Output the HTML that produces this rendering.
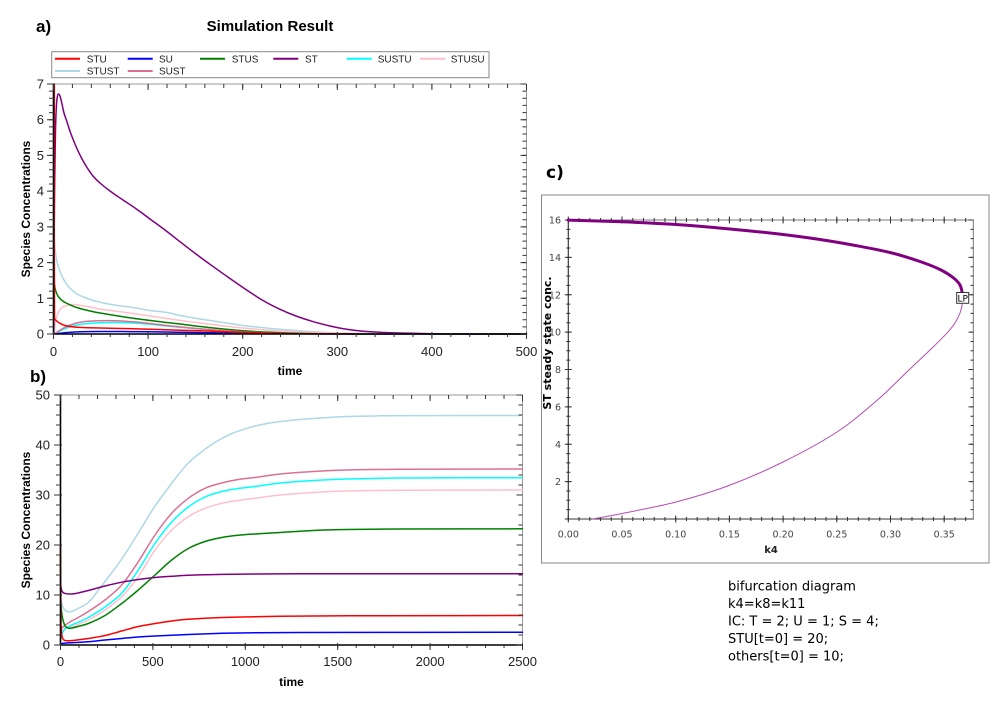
<!DOCTYPE html>
<html><head><meta charset="utf-8"><style>
html,body{margin:0;padding:0;background:#fff;}
svg{display:block;}
.ls{font-family:"Liberation Sans",Arial,sans-serif;}
.dj{font-family:"DejaVu Sans","Liberation Sans",sans-serif;}
</style></head><body>
<svg id="chart" width="1000" height="702" viewBox="0 0 1000 702" xmlns="http://www.w3.org/2000/svg">
<rect width="1000" height="702" fill="#fff"/>

<!-- ================= PANEL A ================= -->
<text x="36" y="32" class="ls" font-size="17" font-weight="bold" fill="#000">a)</text>
<text x="270" y="31" class="ls" font-size="15" font-weight="bold" fill="#000" text-anchor="middle">Simulation Result</text>

<!-- legend -->
<rect x="51.7" y="51.7" width="437.3" height="26" fill="#fff" stroke="#888" stroke-width="1"/>
<g stroke-width="2" fill="none">
<line x1="55" y1="58.7" x2="80" y2="58.7" stroke="#ff0000"/>
<line x1="127.7" y1="58.7" x2="152.7" y2="58.7" stroke="#0000ff"/>
<line x1="200" y1="58.7" x2="225" y2="58.7" stroke="#008000"/>
<line x1="273.3" y1="58.7" x2="298.3" y2="58.7" stroke="#800080"/>
<line x1="346.7" y1="58.7" x2="371.7" y2="58.7" stroke="#00ffff"/>
<line x1="420" y1="58.7" x2="445" y2="58.7" stroke="#ffc0cb"/>
<line x1="55" y1="71" x2="80" y2="71" stroke="#add8e6"/>
<line x1="127.7" y1="71" x2="152.7" y2="71" stroke="#db7093"/>
</g>
<g class="ls" font-size="10" fill="#222">
<text x="86.7" y="62.3">STU</text>
<text x="159" y="62.3">SU</text>
<text x="231.7" y="62.3">STUS</text>
<text x="305" y="62.3">ST</text>
<text x="377.7" y="62.3">SUSTU</text>
<text x="450.7" y="62.3">STUSU</text>
<text x="86.7" y="74.7">STUST</text>
<text x="159" y="74.7">SUST</text>
</g>

<!-- frame a -->
<line x1="53.5" y1="84" x2="526.5" y2="84" stroke="#999" stroke-width="1"/>
<line x1="526.5" y1="84" x2="526.5" y2="334" stroke="#999" stroke-width="1"/>

<!-- series a -->
<g fill="none" stroke-width="1.5" stroke-linejoin="round" stroke-linecap="round">
<polyline class="sm" stroke="#0000ff" points="54,334 60,333.2 75,332 100,331.5 150,331.8 200,332.6 250,333.4 300,333.8 350,334 526.5,334"/>
<polyline class="sm" stroke="#add8e6" points="54,236 55,248 56.7,260 58.5,267 61,274 64,280 68,286 73,291 78,294.5 86,298 95,301 111,304.5 133,307.5 150,310.5 167,312.5 180,315.5 200,319 233,324 246.7,326 280,329.3 313,331.7 350,333.2 400,334 526.5,334"/>
<polyline class="sm" stroke="#ffc0cb" points="54.5,330 55.5,322 57,316 59,311 62,307.5 66.7,305.5 72,304.5 78,305 90,307 100,309 133,313.5 166.7,318.5 200,323 233,327 266,330 300,332 350,333.5 420,334"/>
<polyline class="sm" stroke="#008000" points="54,280 55,288 56.5,293 58.3,296.5 62,300.5 66.7,303.3 76.7,307.5 90,311 100,313 133,318.3 166.7,322.5 180,324 200,326.5 246.7,331 280,332.6 313,333.6 360,334 526.5,334"/>
<polyline class="sm" stroke="#00ffff" points="54,334 58,332 62,330 66.7,328 75,325.5 83.3,324 100,322.8 117,322.5 133.3,323 150,324.3 166.7,326 200,329 233,331.5 266,333 300,333.7 350,334"/>
<polyline class="sm" stroke="#db7093" points="54,334 58,331.5 62,329 66.7,326.5 75,323.5 83.3,321.8 100,320.8 117,320.8 133.3,321.8 150,323.5 166.7,325.5 200,328.8 233,331.3 266,333 300,333.7 350,334"/>
<polyline class="sm" stroke="#800080" points="53.8,334 54,260 54.7,180 55.5,130 56.5,104 57.5,96 58.5,94 60,96 62,104 64,113 66.7,121 71,134 76.7,148 81,157 86.7,167 93,176 100,183 110,191 120,198 135,208 150,219 165,230 180,241.7 196,254 213.3,266.7 230,278.5 246.7,290 263,300.5 280,309.3 296,316 313.3,321.7 330,326 346.7,329.3 363,331.3 380,332.3 413,333.3 450,334 526.5,334"/>
<polyline class="sm" stroke="#ff0000" points="54.3,84 54.5,318 56,320.5 60,323.3 65,325.5 72,326.7 83,327.5 100,328 133,328.8 166,329.8 200,330.8 233,332 266,333 300,333.7 360,334"/>
</g>

<!-- axes a -->
<line x1="53.5" y1="84" x2="53.5" y2="334.5" stroke="#000" stroke-width="1.6"/>
<line x1="53" y1="334" x2="526.5" y2="334" stroke="#000" stroke-width="1.6"/>
<g stroke="#333" fill="none">
<line x1="53" y1="335" x2="528" y2="335" stroke-width="4" stroke-dasharray="1 17.92"/>
<line x1="53" y1="335.5" x2="528" y2="335.5" stroke-width="7" stroke-dasharray="1 93.6"/>
<line x1="53" y1="86" x2="528" y2="86" stroke-width="4" stroke-dasharray="1 17.92"/>
<line x1="53" y1="87" x2="528" y2="87" stroke-width="6" stroke-dasharray="1 93.6"/>
<line x1="51.5" y1="334.5" x2="51.5" y2="83" stroke-width="5" stroke-dasharray="1 6.1429"/>
<line x1="51" y1="334.5" x2="51" y2="83" stroke-width="8" stroke-dasharray="1 34.714"/>
<line x1="524.5" y1="334.5" x2="524.5" y2="83" stroke-width="4" stroke-dasharray="1 6.1429"/>
<line x1="523.5" y1="334.5" x2="523.5" y2="83" stroke-width="6" stroke-dasharray="1 34.714"/>
</g>
<g class="ls" font-size="13" fill="#222" text-anchor="middle">
<text x="53.5" y="356">0</text>
<text x="148.1" y="356">100</text>
<text x="242.7" y="356">200</text>
<text x="337.3" y="356">300</text>
<text x="431.9" y="356">400</text>
<text x="526.5" y="356">500</text>
</g>
<g class="ls" font-size="13" fill="#222" text-anchor="end">
<text x="44" y="338.5">0</text>
<text x="44" y="302.8">1</text>
<text x="44" y="267.1">2</text>
<text x="44" y="231.4">3</text>
<text x="44" y="195.6">4</text>
<text x="44" y="159.9">5</text>
<text x="44" y="124.2">6</text>
<text x="44" y="88.5">7</text>
</g>
<text x="290" y="375" class="ls" font-size="12" font-weight="bold" text-anchor="middle" fill="#000">time</text>
<text transform="translate(30,209) rotate(-90)" class="ls" font-size="12" font-weight="bold" text-anchor="middle" fill="#000">Species Concentrations</text>

<!-- ================= PANEL B ================= -->
<text x="30" y="382" class="ls" font-size="17" font-weight="bold" fill="#000">b)</text>
<line x1="60.5" y1="395" x2="522.5" y2="395" stroke="#999" stroke-width="1"/>
<line x1="522.5" y1="395" x2="522.5" y2="645" stroke="#999" stroke-width="1"/>

<g fill="none" stroke-width="1.5" stroke-linejoin="round" stroke-linecap="round">
<polyline class="sm" stroke="#add8e6" points="60.5,595 61.2,601 62.5,606 64.5,609.7 67,611.5 69.5,611.8 73,611 78,608.5 88.3,602.5 100,588 110,575 121.7,559 133.3,541 145,522 155,506 166.7,490 178,475 188.3,463 200,453 211,445 221.7,438.5 233,433 245,429 255,426 270,423 285,421 300,419.5 320,418 346.7,416.5 380,415.8 413,415.6 522.5,415.5"/>
<polyline class="sm" stroke="#ffc0cb" points="60.5,633 63,630 66,628 71.7,626.7 80,623.5 88.3,620 105,610 121.7,596.7 138.3,576.7 155,550 171.7,530 188.3,516.7 205,508.3 221.7,503.3 238,500.5 255,498.3 280,495 313,492.5 346.7,491 400,490.3 522.5,490"/>
<polyline class="sm" stroke="#db7093" points="60.5,630 63,627 66,624.5 71.7,621 80,616.5 88.3,611.5 105,600 121.7,585 138.3,561.7 155,535 171.7,513.3 188.3,498.3 205,488.3 221.7,483 238,479.5 255,477.5 280,474 313,471.5 346.7,470 400,469.3 522.5,469"/>
<polyline class="sm" stroke="#00ffff" points="60.5,640 62,634 65,629 71.7,625 80,621.5 88.3,617.5 105,607 121.7,593.3 138.3,570 155,543.5 171.7,522 188.3,507 205,497 221.7,491.5 238,488.5 255,486.5 280,483 313,480.5 346.7,479 400,478 522.5,477.7"/>
<polyline class="sm" stroke="#008000" points="60.5,595 61,605 62,615 63.5,622 65.5,626.5 68.3,628.2 72,628 78,626.5 88.3,623.5 105,615.5 121.7,603.5 138.3,590 155,575 171.7,560 188.3,548.5 205,541.5 221.7,537.5 238,535.3 255,534 280,532.5 313,530.5 346.7,529.5 400,529 522.5,528.8"/>
<polyline class="sm" stroke="#800080" points="60.5,583 61.5,590 63,592.5 66,593.7 70,594 75,593.6 88.3,590.5 105,586 121.7,582.2 138.3,579.5 155,577.5 171.7,576.3 188.3,575.3 222,574.4 255,574 300,573.8 522.5,573.8"/>
<polyline class="sm" stroke="#ff0000" points="60.5,545 60.8,600 61.3,630 62.5,638 64.5,640.3 68.3,640.8 75,640.3 88.3,638.5 105,635.5 121.7,631 138.3,626.5 155,623.5 171.7,621 188.3,619.3 222,617.5 255,616.7 280,616.3 350,615.8 522.5,615.5"/>
<polyline class="sm" stroke="#0000ff" points="60.5,644 62,643.5 70,642.8 88.3,641.7 105,640 121.7,638.5 138,637 155,636 188.3,634.5 222,633.3 255,632.7 300,632.5 522.5,632.3"/>
</g>

<line x1="60.5" y1="395" x2="60.5" y2="645.5" stroke="#000" stroke-width="1.6"/>
<line x1="60" y1="645" x2="522.5" y2="645" stroke="#000" stroke-width="1.6"/>
<g stroke="#333" fill="none">
<line x1="60" y1="646" x2="524" y2="646" stroke-width="4" stroke-dasharray="1 17.48"/>
<line x1="60" y1="646.5" x2="524" y2="646.5" stroke-width="7" stroke-dasharray="1 91.4"/>
<line x1="60" y1="397" x2="524" y2="397" stroke-width="4" stroke-dasharray="1 17.48"/>
<line x1="60" y1="398" x2="524" y2="398" stroke-width="6" stroke-dasharray="1 91.4"/>
<line x1="58.5" y1="645.5" x2="58.5" y2="394" stroke-width="5" stroke-dasharray="1 9"/>
<line x1="58" y1="645.5" x2="58" y2="394" stroke-width="8" stroke-dasharray="1 49"/>
<line x1="520.5" y1="645.5" x2="520.5" y2="394" stroke-width="4" stroke-dasharray="1 9"/>
<line x1="519.5" y1="645.5" x2="519.5" y2="394" stroke-width="6" stroke-dasharray="1 49"/>
</g>
<g class="ls" font-size="13" fill="#222" text-anchor="middle">
<text x="60.5" y="666">0</text>
<text x="152.9" y="666">500</text>
<text x="245.3" y="666">1000</text>
<text x="337.7" y="666">1500</text>
<text x="430.1" y="666">2000</text>
<text x="522.5" y="666">2500</text>
</g>
<g class="ls" font-size="13" fill="#222" text-anchor="end">
<text x="50" y="649.5">0</text>
<text x="50" y="599.5">10</text>
<text x="50" y="549.5">20</text>
<text x="50" y="499.5">30</text>
<text x="50" y="449.5">40</text>
<text x="50" y="399.5">50</text>
</g>
<text x="291.5" y="686" class="ls" font-size="12" font-weight="bold" text-anchor="middle" fill="#000">time</text>
<text transform="translate(30,520) rotate(-90)" class="ls" font-size="12" font-weight="bold" text-anchor="middle" fill="#000">Species Concentrations</text>

<!-- ================= PANEL C ================= -->
<text x="546" y="178" class="dj" font-size="17" font-weight="bold" fill="#000">c)</text>
<rect x="541.5" y="195" width="447.5" height="368" fill="#fff" stroke="#888" stroke-width="1"/>
<rect x="568.3" y="220" width="405" height="299" fill="#fff" stroke="#777" stroke-width="1"/>
<line x1="568.3" y1="220" x2="568.3" y2="519" stroke="#333" stroke-width="1"/>
<line x1="568.3" y1="519" x2="973.3" y2="519" stroke="#333" stroke-width="1"/>
<g stroke="#333" fill="none">
<line x1="567.8" y1="519" x2="973.8" y2="519" stroke-width="4" stroke-dasharray="1 9.74"/>
<line x1="567.8" y1="519" x2="973.8" y2="519" stroke-width="7" stroke-dasharray="1 52.7"/>
<line x1="567.8" y1="220" x2="973.8" y2="220" stroke-width="4" stroke-dasharray="1 9.74"/>
<line x1="567.8" y1="220" x2="973.8" y2="220" stroke-width="7" stroke-dasharray="1 52.7"/>
<line x1="568.3" y1="519.5" x2="568.3" y2="219" stroke-width="4" stroke-dasharray="1 8.344"/>
<line x1="568.3" y1="519.5" x2="568.3" y2="219" stroke-width="7" stroke-dasharray="1 36.375"/>
<line x1="972" y1="519.5" x2="972" y2="219" stroke-width="3" stroke-dasharray="1 8.344"/>
<line x1="971" y1="519.5" x2="971" y2="219" stroke-width="5" stroke-dasharray="1 36.375"/>
</g>
<g class="dj" font-size="9.5" fill="#444" text-anchor="middle">
<text x="568.3" y="537.5">0.00</text>
<text x="622" y="537.5">0.05</text>
<text x="675.7" y="537.5">0.10</text>
<text x="729.4" y="537.5">0.15</text>
<text x="783.1" y="537.5">0.20</text>
<text x="836.8" y="537.5">0.25</text>
<text x="890.5" y="537.5">0.30</text>
<text x="944.2" y="537.5">0.35</text>
</g>
<g class="dj" font-size="9.5" fill="#444" text-anchor="end">
<text x="561" y="485">2</text>
<text x="561" y="447.8">4</text>
<text x="561" y="410.4">6</text>
<text x="561" y="373">8</text>
<text x="561" y="335.6">10</text>
<text x="561" y="298.3">12</text>
<text x="561" y="260.9">14</text>
<text x="561" y="223.5">16</text>
</g>
<text x="771" y="553" class="dj" font-size="10" font-weight="bold" fill="#222" text-anchor="middle">k4</text>
<text transform="translate(551,343) rotate(-90)" class="dj" font-size="11" font-weight="bold" fill="#000" text-anchor="middle">ST steady state conc.</text>

<g fill="none" stroke-linejoin="round" stroke-linecap="round">
<polyline class="sm" stroke="#b44cb4" stroke-width="1" points="593,519 622,513.5 676,502 729,485.5 783,462 837,432 878,399.5 910,369 930,350 946.7,333.3 955,323 960,313 962.3,304 962.7,295"/>
<polyline class="sm" stroke="#800080" stroke-width="3" points="568.3,220.1 622,221.8 676,224.5 730,229 783,234.5 820,239.5 850,244.5 890,252.5 920,261.5 940,269.5 953,277.5 960,285 962.7,295"/>
</g>
<rect x="956.7" y="292.5" width="12" height="10.8" fill="#fff" stroke="#333" stroke-width="1"/>
<text x="962.7" y="301.5" class="dj" font-size="9" fill="#000" text-anchor="middle">LP</text>

<!-- notes -->
<g class="dj" font-size="13" fill="#000">
<text x="728" y="590.5">bifurcation diagram</text>
<text x="728" y="608">k4=k8=k11</text>
<text x="728" y="625.5">IC: T = 2; U = 1; S = 4;</text>
<text x="728" y="643">STU[t=0] = 20;</text>
<text x="728" y="660.5">others[t=0] = 10;</text>
</g>
</svg>
<script>
(function(){
  var NS="http://www.w3.org/2000/svg";
  var pls=document.querySelectorAll('polyline.sm');
  for(var k=0;k<pls.length;k++){
    var pl=pls[k];
    var raw=pl.getAttribute('points').trim().split(/\s+/);
    var p=[];
    for(var i=0;i<raw.length;i++){var a=raw[i].split(',');p.push([+a[0],+a[1]]);}
    if(p.length<3)continue;
    var unit=function(a,b){var dx=b[0]-a[0],dy=b[1]-a[1],l=Math.sqrt(dx*dx+dy*dy)||1;return [dx/l,dy/l];};
    var d='M'+p[0][0]+','+p[0][1];
    for(var i=0;i<p.length-1;i++){
      var p0=p[i-1]||p[i],p1=p[i],p2=p[i+1],p3=p[i+2]||p[i+1];
      var L=Math.sqrt(Math.pow(p2[0]-p1[0],2)+Math.pow(p2[1]-p1[1],2))/3;
      var t1=unit(p0,p2),t2=unit(p1,p3);
      var c1=[p1[0]+t1[0]*L,p1[1]+t1[1]*L];
      var c2=[p2[0]-t2[0]*L,p2[1]-t2[1]*L];
      d+=' C'+c1[0].toFixed(2)+','+c1[1].toFixed(2)+' '+c2[0].toFixed(2)+','+c2[1].toFixed(2)+' '+p2[0]+','+p2[1];
    }
    var path=document.createElementNS(NS,'path');
    path.setAttribute('d',d);
    path.setAttribute('fill','none');
    path.setAttribute('stroke',pl.getAttribute('stroke'));
    var sw=pl.getAttribute('stroke-width');
    if(sw)path.setAttribute('stroke-width',sw);
    pl.parentNode.replaceChild(path,pl);
  }
})();
</script>
</body></html>
